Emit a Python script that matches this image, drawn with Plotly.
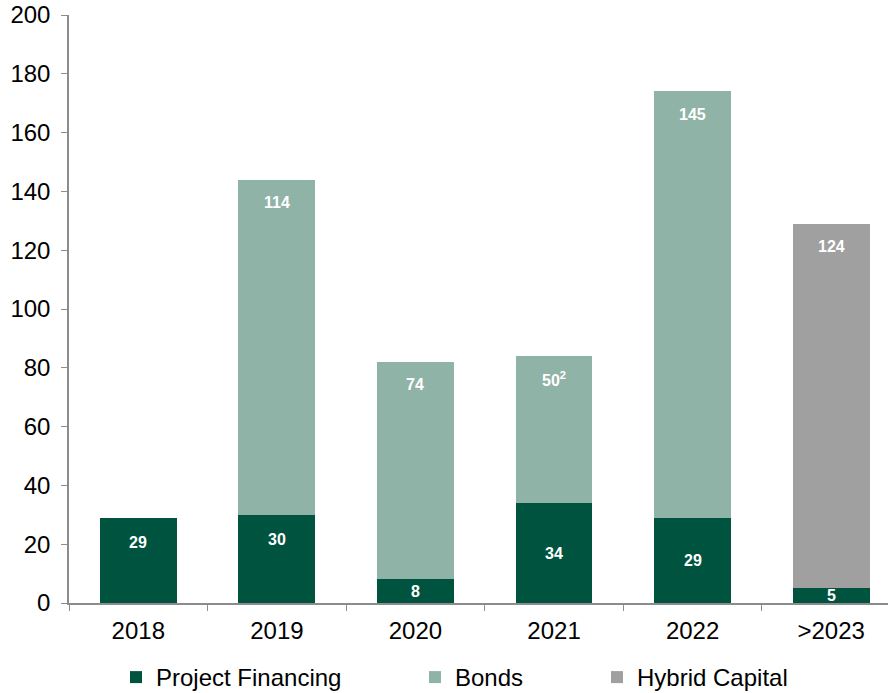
import plotly.graph_objects as go

# Maturity profile by year (EUR m)
years = ["2018", "2019", "2020", "2021", "2022", ">2023"]
project_financing = [29, 30, 8, 34, 29, 5]
bonds = [0, 114, 74, 50, 145, 0]
hybrid_capital = [0, 0, 0, 0, 0, 124]
bond_labels = ["", "114", "74", "50<sup>2</sup>", "145", ""]
hybrid_labels = ["", "", "", "", "", "124"]

C_PF = "#00543F"
C_BONDS = "#8FB3A6"
C_HYBRID = "#A0A0A0"
FONT = "Liberation Sans, Arial, sans-serif"
W, H = 888, 693

fig = go.Figure()
fig.add_trace(go.Bar(x=years, y=project_financing, name="Project Financing",
                     marker=dict(color=C_PF, line=dict(width=0)), legend="legend"))
fig.add_trace(go.Bar(x=years, y=bonds, name="Bonds",
                     marker=dict(color=C_BONDS, line=dict(width=0)), legend="legend2"))
fig.add_trace(go.Bar(x=years, y=hybrid_capital, name="Hybrid Capital",
                     marker=dict(color=C_HYBRID, line=dict(width=0)), legend="legend3"))

label_font = dict(family=FONT, size=16, color="white")

# Project financing labels: near the top for the 2018/2019 segments, centred otherwise
pf_anchor = ["top", "top", "mid", "mid", "mid", "mid"]
for i, (v, a) in enumerate(zip(project_financing, pf_anchor)):
    if a == "top":
        fig.add_annotation(x=i, y=v, text=f"<b>{v}</b>", showarrow=False,
                           yshift=-25, font=label_font)
    else:
        fig.add_annotation(x=i, y=v / 2, text=f"<b>{v}</b>", showarrow=False,
                           font=label_font)

# Upper segment labels sit just inside the top of each stack
for i, (pf, b, h, bl, hl) in enumerate(zip(project_financing, bonds, hybrid_capital,
                                           bond_labels, hybrid_labels)):
    txt = bl or hl
    if txt:
        fig.add_annotation(x=i, y=pf + b + h, text=f"<b>{txt}</b>", showarrow=False,
                           yshift=-23, font=label_font)


def legend_at(px):
    return dict(orientation="h", xref="container", yref="container",
                x=px / W, xanchor="left", y=1 - 655 / H, yanchor="top",
                font=dict(size=24), bgcolor="rgba(0,0,0,0)", itemwidth=30)


fig.update_layout(
    barmode="stack",
    bargap=0.445,
    width=W, height=H,
    margin=dict(l=69, r=0, t=15, b=90, autoexpand=False),
    plot_bgcolor="white", paper_bgcolor="white",
    font=dict(family=FONT, size=24, color="black"),
    showlegend=True,
    legend=legend_at(116),
    legend2=legend_at(415),
    legend3=legend_at(597),
    xaxis=dict(type="category", range=[-0.5, 5.41], showline=True, linecolor="#8C8C8C",
               linewidth=1.5, ticks="outside", tickson="boundaries", ticklen=6,
               tickcolor="#8C8C8C", tickfont=dict(size=24), showgrid=False,
               ticklabelstandoff=5),
    yaxis=dict(range=[0, 200], dtick=20, showline=True, linecolor="#8C8C8C",
               linewidth=1.5, ticks="outside", ticklen=6, tickcolor="#8C8C8C",
               tickfont=dict(size=24), showgrid=False, zeroline=False,
               ticklabelstandoff=6),
)

fig.write_html("out.html")
